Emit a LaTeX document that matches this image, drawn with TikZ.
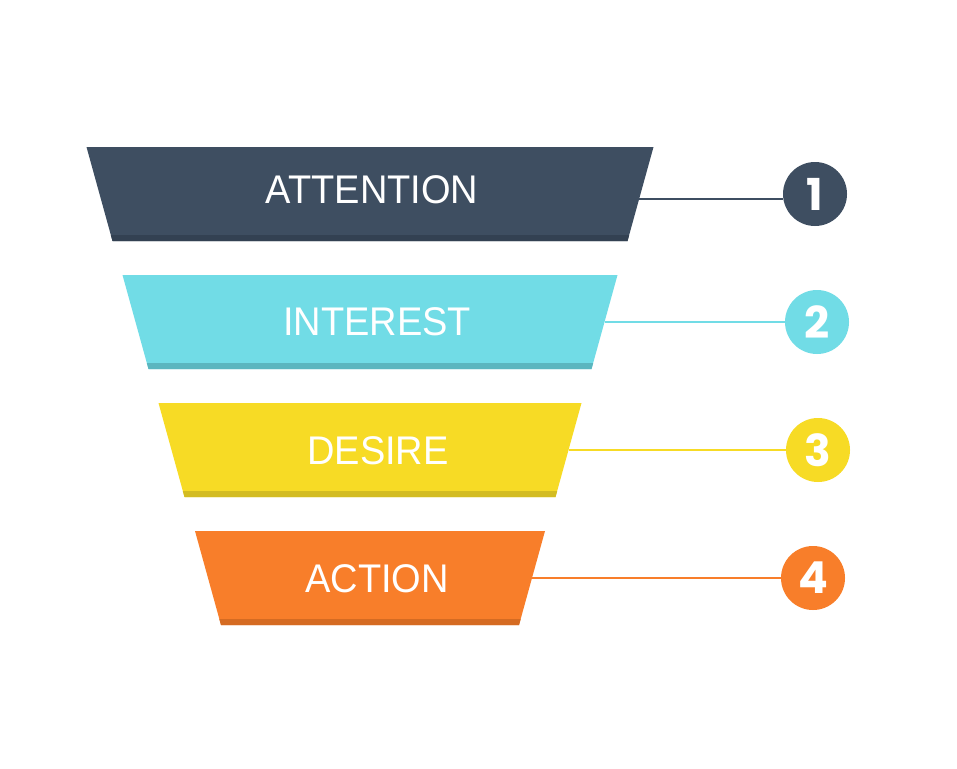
\documentclass[tikz,border=0pt]{standalone}
\usepackage{fontspec}
\setmainfont{Liberation Sans}
\newfontfamily\stagefont[FakeStretch=0.95]{Liberation Sans}
\newfontfamily\numberfont{Poppins}
\usetikzlibrary{calc}
\definecolor{navy}{HTML}{3E4E61}
\definecolor{navyshade}{HTML}{334152}
\definecolor{aqua}{HTML}{71DCE6}
\definecolor{aquashade}{HTML}{5BB6BF}
\definecolor{sun}{HTML}{F7DB25}
\definecolor{sunshade}{HTML}{D3BC22}
\definecolor{tangerine}{HTML}{F87E2A}
\definecolor{tangerineshade}{HTML}{D56B22}
\tikzset{
  stage label/.style={text=white,inner sep=0pt,font=\stagefont\fontsize{40}{40}\selectfont},
  number disc/.style={circle,fill=#1,minimum size=64pt,inner sep=0pt,text=white,
    font=\numberfont\bfseries\fontsize{44}{44}\selectfont},
  stage link/.style={draw=#1,line width=2.8pt}
}
% one funnel stage: name, top, half width, fill, shade
\newcommand{\funnelstage}[5]{
  \fill[#4] ({370-#3},#2) -- ({370+#3},#2) -- ({370+#3-26},{#2+94}) -- ({370-#3+26},{#2+94}) -- cycle;
  \fill[#5] ({370-#3+24.3},{#2+88}) -- ({370+#3-24.3},{#2+88}) -- ({370+#3-26},{#2+94}) -- ({370-#3+26},{#2+94}) -- cycle;
}

\begin{document}
\begin{tikzpicture}[x=1pt,y=-1pt]
\useasboundingbox (0,0) rectangle (957,768);
\fill[white] (0,0) rectangle (957,768);
\foreach \name/\top/\half/\fillc/\shadec/\word/\wordx/\wordy/\linky/\numx/\numy [count=\counter] in {
  attention/147/283.5/navy/navyshade/ATTENTION/372/190/199/815/194,
  interest/275/247.5/aqua/aquashade/INTEREST/377/322/322/817/322,
  desire/403/211.5/sun/sunshade/DESIRE/378/451/450/818/450,
  action/531/175/tangerine/tangerineshade/ACTION/377/579/578/813/578} {
  \funnelstage{\name}{\top}{\half}{\fillc}{\shadec}
  \node[stage label] (\name-label) at (\wordx,\wordy) {\word};
  \coordinate (\name-edge) at ({370+\half-26*(\linky-\top)/94},\linky);
  \node[number disc=\fillc] (\name-num) at (\numx,\numy) {\counter};
  \draw[stage link=\fillc] (\name-edge) -- (\name-edge -| \name-num.west);
}
\end{tikzpicture}
\end{document}
